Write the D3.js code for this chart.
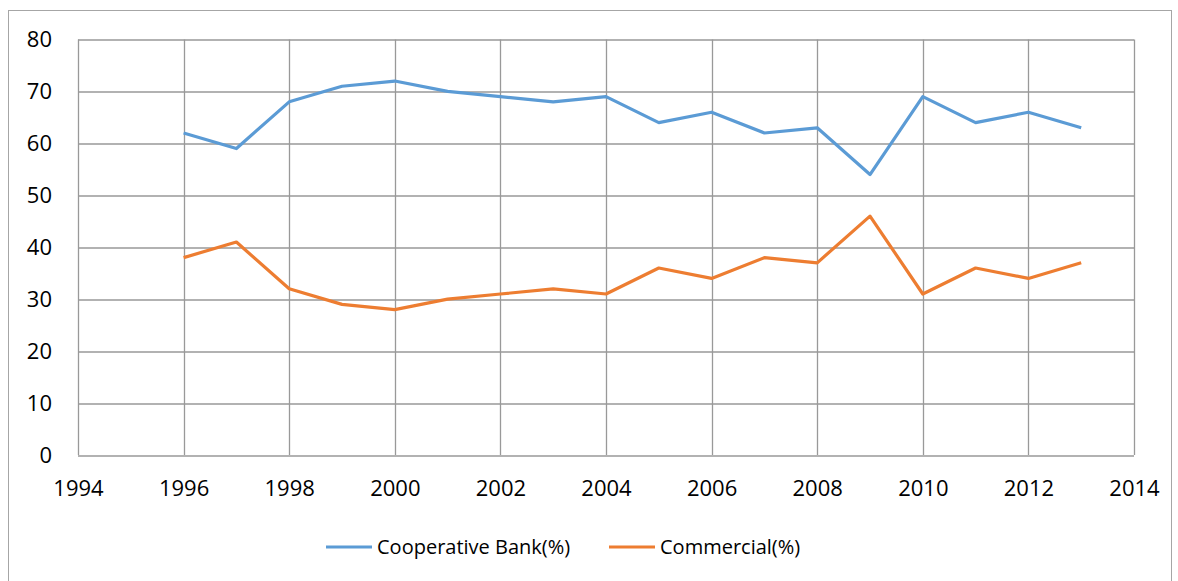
<!DOCTYPE html>
<html>
<head>
<meta charset="utf-8">
<script src="https://cdn.jsdelivr.net/npm/d3@7"></script>
<style>
  body { margin: 0; background: #fff; }
  svg text { font-family: "Open Sans", Lato, sans-serif; fill: #000; }
</style>
</head>
<body>
<div id="chart"></div>
<script>
var years = [1996,1997,1998,1999,2000,2001,2002,2003,2004,2005,2006,2007,2008,2009,2010,2011,2012,2013]
var cooperative = [62,59,68,71,72,70,69,68,69,64,66,62,63,54,69,64,66,63]
var commercial = [38,41,32,29,28,30,31,32,31,36,34,38,37,46,31,36,34,37]
var xTicks = [1994,1996,1998,2000,2002,2004,2006,2008,2010,2012,2014]
var yTicks = [0,10,20,30,40,50,60,70,80]
var seriesNames = ["Cooperative Bank(%)", "Commercial(%)"]
var colors = ["#5b9bd5", "#ed7d31"]

var width = 1178, height = 581
var margin = {top: 39.5, right: 44, bottom: 126, left: 78}
var w = width - margin.left - margin.right
var h = height - margin.top - margin.bottom
var tickFontSize = "22px"
var legendFontSize = "20px"

var svg = d3.select("#chart").append("svg")
    .attr("width", width)
    .attr("height", height)

// outer chart border
svg.append("rect")
    .attr("x", 8.5).attr("y", 10.5)
    .attr("width", 1163).attr("height", 600)
    .attr("fill", "none").attr("stroke", "#a6a6a6").attr("stroke-width", 1)

var plot = svg.append("g")
    .attr("transform", `translate(${margin.left},${margin.top})`)

var xScale = d3.scaleLinear().domain([1994, 2014]).range([0, w])
var yScale = d3.scaleLinear().domain([0, 80]).range([h, 0])

// gridlines
plot.append("g").selectAll("line.h").data(yTicks).join("line")
    .attr("x1", 0).attr("x2", w)
    .attr("y1", d => Math.round(yScale(d)) + 0.5)
    .attr("y2", d => Math.round(yScale(d)) + 0.5)
    .attr("stroke", "#999").attr("stroke-width", 1.3)
plot.append("g").selectAll("line.v").data(xTicks).join("line")
    .attr("y1", 0).attr("y2", h)
    .attr("x1", d => Math.round(xScale(d)) + 0.5)
    .attr("x2", d => Math.round(xScale(d)) + 0.5)
    .attr("stroke", "#999").attr("stroke-width", 1.3)

// axes (labels only)
var xAxis = d3.axisBottom(xScale).tickValues(xTicks).tickFormat(d3.format("d")).tickSize(0).tickPadding(25)
var yAxis = d3.axisLeft(yScale).tickValues(yTicks).tickSize(0).tickPadding(26)

plot.append("g")
    .attr("class", "x axis")
    .attr("transform", `translate(0,${h})`)
    .call(xAxis)
    .call(g => g.select(".domain").remove())
    .selectAll("text").style("font-size", tickFontSize)
plot.append("g")
    .attr("class", "y axis")
    .call(yAxis)
    .call(g => g.select(".domain").remove())
    .selectAll("text").style("font-size", tickFontSize)

var line = d3.line()
    .x((d, i) => xScale(years[i]))
    .y(d => yScale(d))

;[cooperative, commercial].forEach(function(vals, k){
    plot.append("path")
        .datum(vals)
        .attr("fill", "none")
        .attr("stroke", colors[k])
        .attr("stroke-width", 3.2)
        .attr("stroke-linejoin", "round")
        .attr("d", line)
})

// legend
var legendX = [326, 609]
var legendY = 547
seriesNames.forEach(function(name, k){
    var g = svg.append("g").attr("transform", `translate(${legendX[k]},${legendY})`)
    g.append("line")
        .attr("x1", 0).attr("x2", 46)
        .attr("stroke", colors[k]).attr("stroke-width", 3.2)
    g.append("text")
        .attr("x", 51).attr("dy", "0.35em")
        .style("font-size", legendFontSize)
        .text(name)
})
</script>
</body>
</html>
